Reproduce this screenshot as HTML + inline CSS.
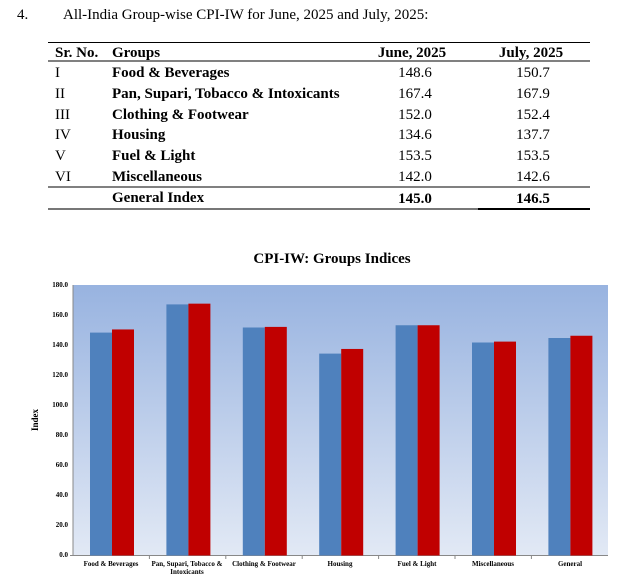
<!DOCTYPE html>
<html><head><style>
body{margin:0;background:#fff;width:635px;height:580px;overflow:hidden}
svg{display:block}
</style></head><body>
<svg width="635" height="580" xmlns="http://www.w3.org/2000/svg" font-family="Liberation Serif, serif">
<defs><linearGradient id="g" x1="0" y1="0" x2="0" y2="1"><stop offset="0" stop-color="#98b3e0"/><stop offset="1" stop-color="#e2e9f5"/></linearGradient></defs>
<text x="17" y="19" font-size="15">4.</text>
<text x="63" y="19" font-size="15">All-India Group-wise CPI-IW for June, 2025 and July, 2025:</text>
<line x1="48" y1="42.5" x2="590" y2="42.5" stroke="#000" stroke-width="1"/>
<line x1="48" y1="61" x2="590" y2="61" stroke="#000" stroke-width="1"/>
<g font-size="15" font-weight="bold">
<text x="55" y="57">Sr. No.</text><text x="112" y="57">Groups</text>
<text x="412" y="57" text-anchor="middle">June, 2025</text><text x="531" y="57" text-anchor="middle">July, 2025</text>
</g>
<g font-size="15">
<text x="55" y="77">I</text><text x="55" y="98">II</text><text x="55" y="119">III</text><text x="55" y="139">IV</text><text x="55" y="160">V</text><text x="55" y="181">VI</text>
</g>
<g font-size="15" font-weight="bold">
<text x="112" y="77">Food &amp; Beverages</text>
<text x="112" y="98">Pan, Supari, Tobacco &amp; Intoxicants</text>
<text x="112" y="119">Clothing &amp; Footwear</text>
<text x="112" y="139">Housing</text>
<text x="112" y="160">Fuel &amp; Light</text>
<text x="112" y="181">Miscellaneous</text>
<text x="112" y="202">General Index</text>
<text x="415" y="203" text-anchor="middle">145.0</text>
<text x="533" y="203" text-anchor="middle">146.5</text>
</g>
<g font-size="15" text-anchor="middle">
<text x="415" y="77">148.6</text><text x="533" y="77">150.7</text>
<text x="415" y="98">167.4</text><text x="533" y="98">167.9</text>
<text x="415" y="119">152.0</text><text x="533" y="119">152.4</text>
<text x="415" y="139">134.6</text><text x="533" y="139">137.7</text>
<text x="415" y="160">153.5</text><text x="533" y="160">153.5</text>
<text x="415" y="181">142.0</text><text x="533" y="181">142.6</text>
</g>
<line x1="48" y1="187" x2="590" y2="187" stroke="#000" stroke-width="1"/>
<line x1="48" y1="209" x2="590" y2="209" stroke="#777" stroke-width="2"/>
<line x1="478" y1="209" x2="590" y2="209" stroke="#000" stroke-width="2"/>
<text x="332" y="263" font-size="15" font-weight="bold" text-anchor="middle">CPI-IW: Groups Indices</text>
<rect x="73" y="285" width="535" height="270.5" fill="url(#g)"/>
<line x1="73" y1="285" x2="73" y2="556" stroke="#888"/>
<line x1="70" y1="555.5" x2="608" y2="555.5" stroke="#888"/>
<g font-size="7" font-weight="bold" text-anchor="end">
<text x="68" y="287">180.0</text><text x="68" y="317">160.0</text><text x="68" y="347">140.0</text><text x="68" y="377">120.0</text><text x="68" y="407">100.0</text><text x="68" y="437">80.0</text><text x="68" y="467">60.0</text><text x="68" y="497">40.0</text><text x="68" y="527">20.0</text><text x="68" y="557">0.0</text>
</g>
<text transform="translate(38,420) rotate(-90)" font-size="9" font-weight="bold" text-anchor="middle">Index</text>
<g font-size="7" font-weight="bold" text-anchor="middle">
<text x="111" y="566">Food &amp; Beverages</text>
<text x="187" y="566">Pan, Supari, Tobacco &amp;</text><text x="187" y="574">Intoxicants</text>
<text x="264" y="566">Clothing &amp; Footwear</text>
<text x="340" y="566">Housing</text>
<text x="417" y="566">Fuel &amp; Light</text>
<text x="493" y="566">Miscellaneous</text>
<text x="570" y="566">General</text>
</g>
<g fill="#4f81bd">
<rect x="90" y="332.6" width="22" height="222.9"/>
<rect x="166.4" y="304.4" width="22" height="251.1"/>
<rect x="242.8" y="327.5" width="22" height="228"/>
<rect x="319.2" y="353.6" width="22" height="201.9"/>
<rect x="395.6" y="325.25" width="22" height="230.25"/>
<rect x="472" y="342.5" width="22" height="213"/>
<rect x="548.4" y="338" width="22" height="217.5"/>
</g>
<g fill="#c00000">
<rect x="112" y="329.45" width="22" height="226.05"/>
<rect x="188.4" y="303.65" width="22" height="251.85"/>
<rect x="264.8" y="326.9" width="22" height="228.6"/>
<rect x="341.2" y="348.95" width="22" height="206.55"/>
<rect x="417.6" y="325.25" width="22" height="230.25"/>
<rect x="494" y="341.6" width="22" height="213.9"/>
<rect x="570.4" y="335.75" width="22" height="219.75"/>
</g>
<g stroke="#888"><line x1="149.4" y1="555" x2="149.4" y2="559"/><line x1="225.8" y1="555" x2="225.8" y2="559"/><line x1="302.2" y1="555" x2="302.2" y2="559"/><line x1="378.6" y1="555" x2="378.6" y2="559"/><line x1="455" y1="555" x2="455" y2="559"/><line x1="531.4" y1="555" x2="531.4" y2="559"/></g>
</svg>
</body></html>
